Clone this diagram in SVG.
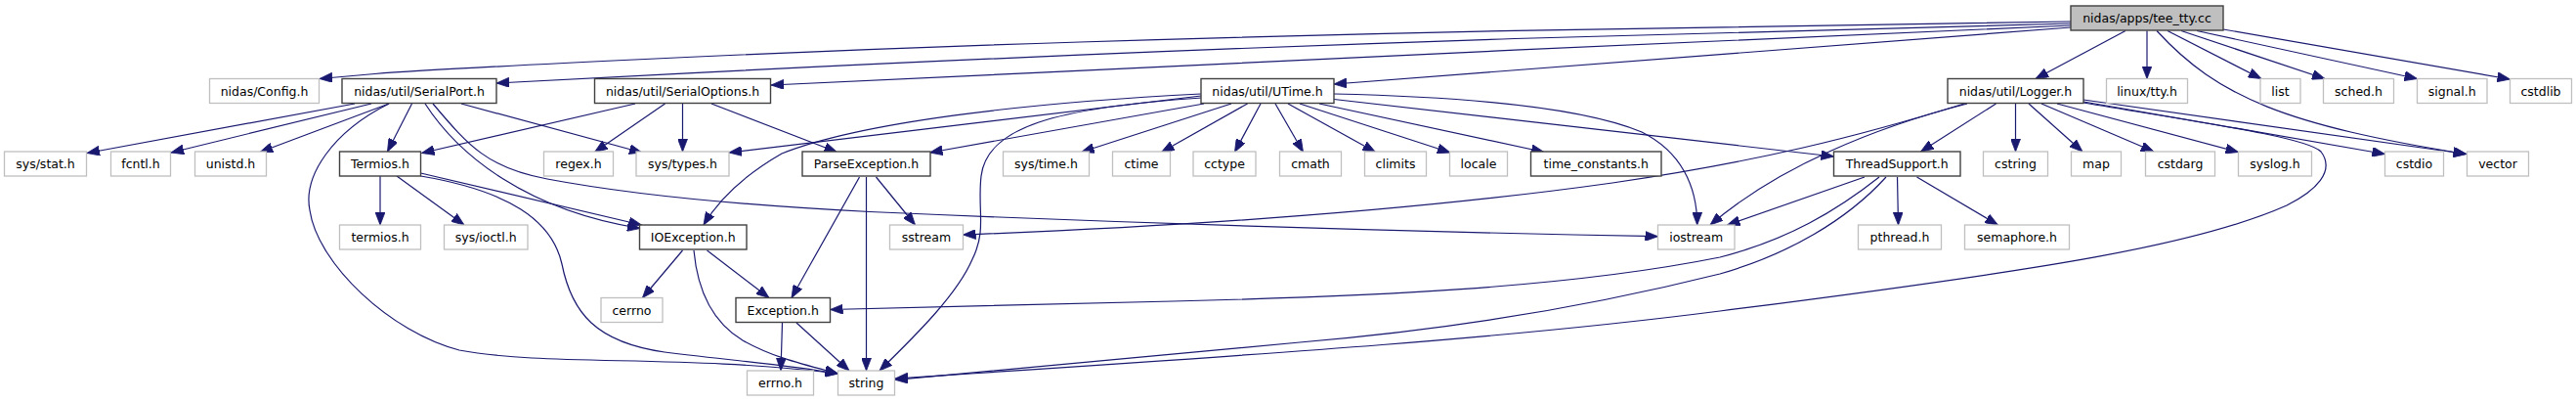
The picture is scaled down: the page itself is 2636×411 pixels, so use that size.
<svg xmlns="http://www.w3.org/2000/svg" width="2636" height="411" viewBox="0 0 2636 411">
<style>
.n rect{fill:#ffffff;stroke:#bfbfbf;stroke-width:1.3}
.n.b rect{stroke:#404040;stroke-width:1.4}
.n.t rect{fill:#bfbfbf;stroke:#404040;stroke-width:1.4}
.n text{font-family:"DejaVu Sans","Liberation Sans",sans-serif;font-size:12.5px;text-anchor:middle;fill:#000000}
#edges path{fill:none;stroke:#191970;stroke-width:1.2;marker-end:url(#arr)}
</style>
<defs>
<marker id="arr" viewBox="0 0 13 10" refX="13" refY="5" markerWidth="13" markerHeight="10" markerUnits="userSpaceOnUse" orient="auto">
<path d="M0,0L13,5L0,10z" fill="#191970" stroke="#191970" stroke-width="0.8"/>
</marker>
</defs>
<rect width="2636" height="411" fill="#ffffff"/>
<g id="edges">
<path d="M2119,22 Q1770,26.7 1550,31.4 Q1330,36 1105,43 Q880,50 660,60.5 Q440,71 383.5,75.5 L327,80.5"/>
<path d="M2119,24 Q1770,32.3 1550,39.5 Q1330,46.7 1105,56.2 Q880,65.7 694,75.4 L508,85"/>
<path d="M2119,26 Q1770,40.7 1550,51.2 Q1330,61.7 1060,74.4 L789,87"/>
<path d="M2119,28 Q1800,52 1365,86"/>
<path d="M2175,31.5 L2083,80.5"/>
<path d="M2197,31.5 L2197,80.5"/>
<path d="M2218,31.5 L2314,80.5"/>
<path d="M2232,31.5 L2379,80.5"/>
<path d="M2248,31.5 L2473.5,80.5"/>
<path d="M2275,30 L2568.5,81"/>
<path d="M2207,31.5 C2270,100 2340,128 2523.5,157.5"/>
<path d="M363,106 L89,156.5"/>
<path d="M380,106 L175,156"/>
<path d="M398,106 L266,155.5"/>
<path d="M421.5,106 L396.5,155"/>
<path d="M398,106 C340,135 310,180 317,215 C325,270 400,340 470,358 C560,375 700,362 857.5,382"/>
<path d="M435,106 C470,160 540,215 655,233.5"/>
<path d="M472,106 L657,156"/>
<path d="M443,106 C480,150 500,172 560,183 C640,198 760,210 890,216.5 C1200,230 1500,238 1696.5,241.7"/>
<path d="M389,180 L389,230"/>
<path d="M406,180 L475,230"/>
<path d="M430.5,177 L656.5,230"/>
<path d="M430.5,180 C520,195 565,225 575,270 C585,320 610,350 680,360 C760,370 800,372 857.5,382"/>
<path d="M650,106 L431.5,156.5"/>
<path d="M680.5,106 L608.5,155.5"/>
<path d="M698.5,106 L698.5,155"/>
<path d="M728,106 L856.5,155.5"/>
<path d="M1229,98 L746,156"/>
<path d="M1229,96 C1050,105 880,125 800,157 C760,180 735,205 720,230"/>
<path d="M1232,106 L951.5,156"/>
<path d="M1230,100 C1080,110 1010,130 1004,180 C1000,215 1010,235 995,265 C980,300 940,340 900,379"/>
<path d="M1260,106 L1106.5,155.5"/>
<path d="M1276.5,106 L1188.5,155.5"/>
<path d="M1290,106 L1263.5,155.5"/>
<path d="M1305,106 L1333.5,155.5"/>
<path d="M1318,106 L1407.5,155.5"/>
<path d="M1330,106 L1484,156"/>
<path d="M1350,106 L1580,155.5"/>
<path d="M1365,96 C1500,99 1620,110 1680,135 C1720,155 1736.7,190 1736.7,230"/>
<path d="M1365,101.5 L1876.5,160"/>
<path d="M896.5,181 L936.5,230"/>
<path d="M886.5,181 L886.5,379"/>
<path d="M879.5,181 L810,304.5"/>
<path d="M698.5,256 L657.5,304.5"/>
<path d="M723.5,256 L787,304.5"/>
<path d="M710,256 C714,300 730,330 760,348 C790,365 820,372 857.5,382"/>
<path d="M800.5,330 L799,379"/>
<path d="M815,330 L869,379"/>
<path d="M1941.5,181 L1942.5,230"/>
<path d="M1961.5,181 L2044.5,230"/>
<path d="M1908,181 L1767.5,230"/>
<path d="M1923,181 C1880,215 1830,245 1760,263 C1600,295 1400,303 1200,308 L849.5,316.5"/>
<path d="M1930,181 C1890,225 1830,260 1760,280 C1600,320 1450,340 1330,350 L916,388.3"/>
<path d="M2042.5,106 L1965.5,155"/>
<path d="M2062.5,106 L2062.5,155"/>
<path d="M2076,106 L2131,155"/>
<path d="M2089,106 L2204,155"/>
<path d="M2105,106 L2290.5,155.5"/>
<path d="M2132,104 L2440.5,157.5"/>
<path d="M2132,102 L2524,157.5"/>
<path d="M2132,105 C2250,125 2360,140 2375,155 C2390,175 2370,195 2340,210 C2250,250 2100,275 1760,318 C1550,345 1330,360 916,387"/>
<path d="M2013,106 C1920,130 1820,170 1750,230"/>
<path d="M2010,106 C1900,140 1800,165 1650,187 C1500,208 1300,228 985.5,240"/>
</g>
<g id="n_tee" class="n t"><rect x="2119" y="6" width="156" height="25"/><text x="2197" y="23">nidas/apps/tee_tty.cc</text></g>
<g id="n_config" class="n"><rect x="214.5" y="80.5" width="112" height="25"/><text x="270.5" y="97.5">nidas/Config.h</text></g>
<g id="n_serialport" class="n b"><rect x="350" y="80.5" width="158" height="25"/><text x="429" y="97.5">nidas/util/SerialPort.h</text></g>
<g id="n_serialoptions" class="n b"><rect x="608.5" y="80.5" width="180" height="25"/><text x="698.5" y="97.5">nidas/util/SerialOptions.h</text></g>
<g id="n_utime" class="n b"><rect x="1229" y="80.5" width="136" height="25"/><text x="1297" y="97.5">nidas/util/UTime.h</text></g>
<g id="n_logger" class="n b"><rect x="1993" y="80.5" width="139" height="25"/><text x="2062.5" y="97.5">nidas/util/Logger.h</text></g>
<g id="n_linuxtty" class="n"><rect x="2155.5" y="80.5" width="83" height="25"/><text x="2197" y="97.5">linux/tty.h</text></g>
<g id="n_list" class="n"><rect x="2313" y="80.5" width="41" height="25"/><text x="2333.5" y="97.5">list</text></g>
<g id="n_sched" class="n"><rect x="2377.5" y="80.5" width="72" height="25"/><text x="2413.5" y="97.5">sched.h</text></g>
<g id="n_signal" class="n"><rect x="2473.5" y="80.5" width="71.5" height="25"/><text x="2509.2" y="97.5">signal.h</text></g>
<g id="n_cstdlib" class="n"><rect x="2568.5" y="80.5" width="63" height="25"/><text x="2600" y="97.5">cstdlib</text></g>
<g id="n_sysstat" class="n"><rect x="4.5" y="155" width="84" height="25"/><text x="46.5" y="172">sys/stat.h</text></g>
<g id="n_fcntl" class="n"><rect x="113.5" y="155" width="61" height="25"/><text x="144" y="172">fcntl.h</text></g>
<g id="n_unistd" class="n"><rect x="199.5" y="155" width="73" height="25"/><text x="236" y="172">unistd.h</text></g>
<g id="n_termios_cls" class="n b"><rect x="347.5" y="155" width="83" height="25"/><text x="389" y="172">Termios.h</text></g>
<g id="n_regex" class="n"><rect x="556.5" y="155" width="71" height="25"/><text x="592" y="172">regex.h</text></g>
<g id="n_systypes" class="n"><rect x="651" y="155" width="95" height="25"/><text x="698.5" y="172">sys/types.h</text></g>
<g id="n_parseexc" class="n b"><rect x="821" y="155" width="131" height="25"/><text x="886.5" y="172">ParseException.h</text></g>
<g id="n_systime" class="n"><rect x="1026.5" y="155" width="88" height="25"/><text x="1070.5" y="172">sys/time.h</text></g>
<g id="n_ctime" class="n"><rect x="1138.5" y="155" width="59" height="25"/><text x="1168" y="172">ctime</text></g>
<g id="n_cctype" class="n"><rect x="1221" y="155" width="64" height="25"/><text x="1253" y="172">cctype</text></g>
<g id="n_cmath" class="n"><rect x="1309.5" y="155" width="63" height="25"/><text x="1341" y="172">cmath</text></g>
<g id="n_climits" class="n"><rect x="1396.5" y="155" width="63" height="25"/><text x="1428" y="172">climits</text></g>
<g id="n_locale" class="n"><rect x="1483.5" y="155" width="59" height="25"/><text x="1513" y="172">locale</text></g>
<g id="n_timeconst" class="n b"><rect x="1566.5" y="155" width="133.5" height="25"/><text x="1633.2" y="172">time_constants.h</text></g>
<g id="n_threadsupport" class="n b"><rect x="1876.5" y="155" width="129.5" height="25"/><text x="1941.2" y="172">ThreadSupport.h</text></g>
<g id="n_cstring" class="n"><rect x="2029.5" y="155" width="66" height="25"/><text x="2062.5" y="172">cstring</text></g>
<g id="n_map" class="n"><rect x="2119.5" y="155" width="51" height="25"/><text x="2145" y="172">map</text></g>
<g id="n_cstdarg" class="n"><rect x="2195.5" y="155" width="71" height="25"/><text x="2231" y="172">cstdarg</text></g>
<g id="n_syslog" class="n"><rect x="2290.5" y="155" width="75" height="25"/><text x="2328" y="172">syslog.h</text></g>
<g id="n_cstdio" class="n"><rect x="2440.5" y="155" width="60" height="25"/><text x="2470.5" y="172">cstdio</text></g>
<g id="n_vector" class="n"><rect x="2524.5" y="155" width="63" height="25"/><text x="2556" y="172">vector</text></g>
<g id="n_termios_h" class="n"><rect x="347.5" y="230" width="83" height="25"/><text x="389" y="247">termios.h</text></g>
<g id="n_sysioctl" class="n"><rect x="454.5" y="230" width="85.5" height="25"/><text x="497.2" y="247">sys/ioctl.h</text></g>
<g id="n_ioexc" class="n b"><rect x="654.5" y="230" width="109.5" height="25"/><text x="709.2" y="247">IOException.h</text></g>
<g id="n_sstream" class="n"><rect x="910.5" y="230" width="75" height="25"/><text x="948" y="247">sstream</text></g>
<g id="n_iostream" class="n"><rect x="1696.5" y="230" width="78.5" height="25"/><text x="1735.7" y="247">iostream</text></g>
<g id="n_pthread" class="n"><rect x="1901.5" y="230" width="85" height="25"/><text x="1944" y="247">pthread.h</text></g>
<g id="n_semaphore" class="n"><rect x="2010.5" y="230" width="107" height="25"/><text x="2064" y="247">semaphore.h</text></g>
<g id="n_cerrno" class="n"><rect x="615" y="304.5" width="63" height="25"/><text x="646.5" y="321.5">cerrno</text></g>
<g id="n_exception" class="n b"><rect x="753" y="304.5" width="96.5" height="25"/><text x="801.2" y="321.5">Exception.h</text></g>
<g id="n_errno" class="n"><rect x="764.5" y="379" width="68" height="25"/><text x="798.5" y="396">errno.h</text></g>
<g id="n_string" class="n"><rect x="857.5" y="379" width="58" height="25"/><text x="886.5" y="396">string</text></g>
</svg>
